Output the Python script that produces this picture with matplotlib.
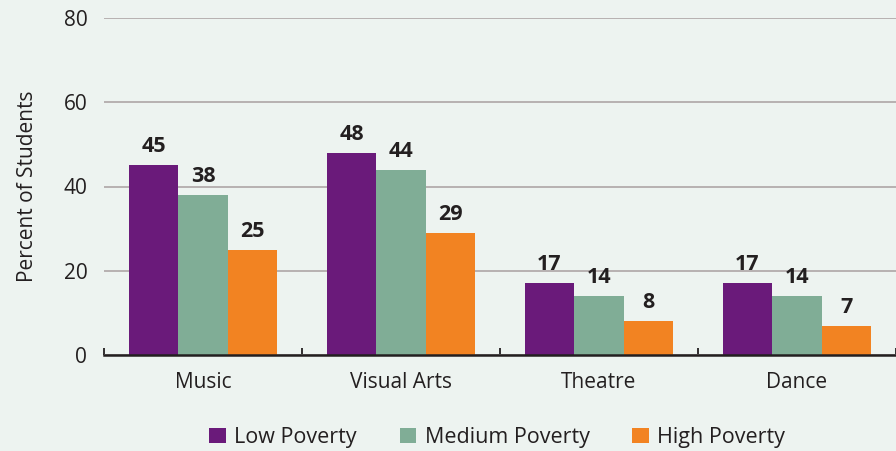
import numpy as np
from matplotlib import pyplot as plt

categories = ["Music", "Visual Arts", "Theatre", "Dance"]
series_names = ["Low Poverty", "Medium Poverty", "High Poverty"]
low = [45, 48, 17, 17]
medium = [38, 44, 14, 14]
high = [25, 29, 8, 7]
yticks = [0, 20, 40, 60, 80]

colors = ["#6a1a7a", "#80ad96", "#f28322"]
bg = "#edf3f0"

plt.rcParams['font.family'] = ['Open Sans', 'DejaVu Sans']

fig = plt.figure(figsize=(8.96, 4.51), dpi=100, facecolor=bg)
ax = fig.add_axes([104 / 896, (451 - 355) / 451, 1 - 104 / 896, (355 - 18) / 451])
ax.set_facecolor(bg)

x = np.arange(len(categories))
w = 0.25
for k, vals in enumerate([low, medium, high]):
    pos = x + (k - 1) * w
    bars = ax.bar(pos, vals, width=w, color=colors[k], label=series_names[k], zorder=3)
    for b, v in zip(bars, vals):
        ax.text(b.get_x() + b.get_width() / 2, v + 1.9, str(v), ha="center", va="bottom",
                fontsize=15.5, fontweight="bold", color="#231f20")

ax.set_ylim(0, 80)
ax.set_xlim(-0.5, 3.465)
ax.set_yticks(yticks)
ax.yaxis.grid(True, color="#b3acac", linewidth=1.3, zorder=0)
ax.tick_params(axis="y", length=0, labelsize=15, labelcolor="#231f20", pad=12)

ax.set_xticks(x)
ax.set_xticklabels(categories, fontsize=15, color="#231f20")
ax.tick_params(axis="x", length=0, pad=12)
# small upward ticks at category boundaries
ax.set_xticks(np.arange(-0.5, 3.6, 1.0), minor=True)
ax.tick_params(axis="x", which="minor", direction="in", length=5, width=1.3, color="#231f20")

for s in ["top", "right", "left"]:
    ax.spines[s].set_visible(False)
ax.spines["bottom"].set_linewidth(1.8)
ax.spines["bottom"].set_color("#231f20")
ax.spines["bottom"].set_zorder(4)

ax.set_ylabel("Percent of Students", fontsize=15, color="#231f20", labelpad=18)

leg = fig.legend(loc="center", bbox_to_anchor=(0.555, 0.03), ncol=3, frameon=False,
                 fontsize=15.5, handlelength=0.75, handleheight=0.75, columnspacing=2.0,
                 handletextpad=0.4)
for t in leg.get_texts():
    t.set_color("#231f20")

fig.savefig("out.png", dpi=100, facecolor=bg)
